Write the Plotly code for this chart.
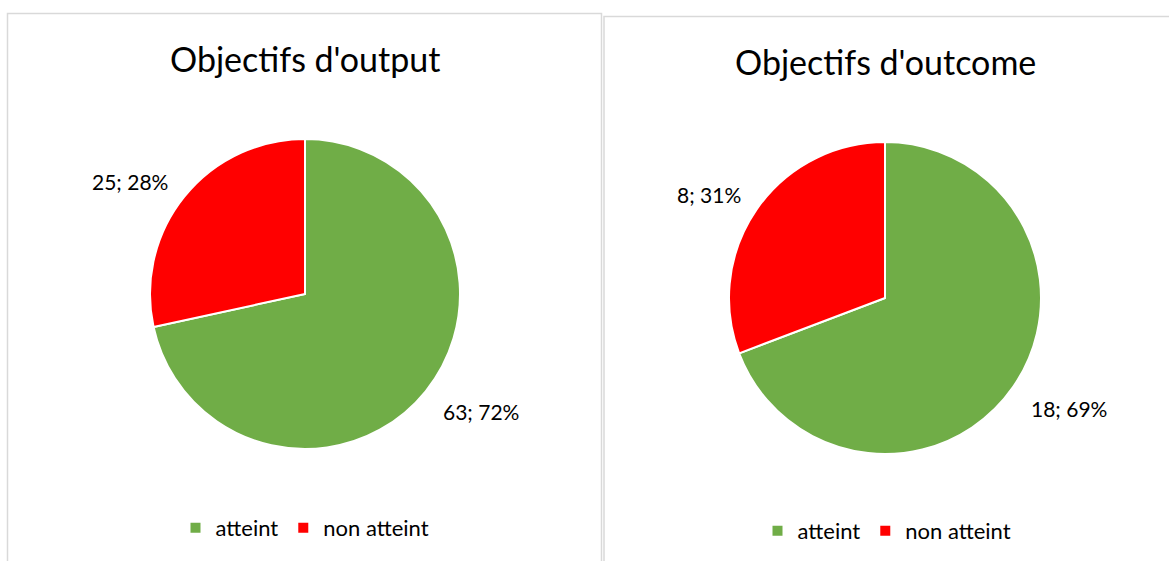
import plotly.graph_objects as go

# ── Data ────────────────────────────────────────────────────
labels = ["atteint", "non atteint"]
output_vals = [63, 25]
outcome_vals = [18, 8]
titles = ["Objectifs d'output", "Objectifs d'outcome"]
colors = ["#70AD47", "#FF0000"]

W, H = 1169, 561
FONT = "Lato"


def px_x(x):
    return x / W


def px_y(y):
    return 1 - y / H


def fmt(vals):
    total = sum(vals)
    return [f"{v}; {round(100 * v / total)}%" for v in vals]


fig = go.Figure()

# pies: (values, domain box in pixels, legend name)
pies = [
    (output_vals, (150, 460, 139, 449), "legend"),
    (outcome_vals, (729, 1041, 142, 454), "legend2"),
]
for vals, (x0, x1, y0, y1), leg in pies:
    fig.add_trace(go.Pie(
        labels=labels, values=vals, sort=False, direction="clockwise",
        rotation=0, textinfo="none", hoverinfo="label+value+percent",
        marker=dict(colors=colors, line=dict(color="white", width=2)),
        domain=dict(x=[px_x(x0), px_x(x1)], y=[px_y(y1), px_y(y0)]),
        showlegend=False,
    ))
    # legend keys, one legend per panel
    for lab, col in zip(labels, colors):
        fig.add_trace(go.Scatter(
            x=[None], y=[None], mode="markers", name=lab, legend=leg,
            marker=dict(symbol="square", size=10, color=col),
            hoverinfo="skip",
        ))

# panel borders
shapes = [
    dict(type="rect", xref="paper", yref="paper",
         x0=px_x(7.5), x1=px_x(601.5), y0=px_y(575), y1=px_y(13.5),
         line=dict(color="#D9D9D9", width=1.5)),
    dict(type="rect", xref="paper", yref="paper",
         x0=px_x(604), x1=px_x(1185), y0=px_y(575), y1=px_y(16.5),
         line=dict(color="#D9D9D9", width=1.5)),
]

annotations = []
# titles
for text, cx, cy in zip(titles, [305, 885], [58, 62]):
    annotations.append(dict(
        text=text, x=px_x(cx), y=px_y(cy), xref="paper", yref="paper",
        showarrow=False, xanchor="center", yanchor="middle",
        font=dict(family=FONT, size=34, color="#000000"),
    ))
# data labels
label_pos = [
    ([(481, 411), (130, 181)], output_vals),
    ([(1069, 408), (709, 194)], outcome_vals),
]
for pos, vals in label_pos:
    for (lx, ly), txt in zip(pos, fmt(vals)):
        annotations.append(dict(
            text=txt, x=px_x(lx), y=px_y(ly), xref="paper", yref="paper",
            showarrow=False, xanchor="center", yanchor="middle",
            font=dict(family=FONT, size=21, color="#000000"),
        ))

legend_style = dict(
    orientation="h", xanchor="center", yanchor="middle",
    font=dict(family=FONT, size=22, color="#000000"),
    bgcolor="rgba(0,0,0,0)", itemwidth=30, tracegroupgap=0,
)

fig.update_layout(
    width=W, height=H,
    margin=dict(l=0, r=0, t=0, b=0),
    paper_bgcolor="white", plot_bgcolor="white",
    font=dict(family=FONT),
    xaxis=dict(visible=False), yaxis=dict(visible=False),
    shapes=shapes, annotations=annotations,
    legend=dict(**legend_style, x=px_x(305), y=px_y(528)),
    legend2=dict(**legend_style, x=px_x(887), y=px_y(531)),
)

fig.write_html("out.html", config={"displayModeBar": False},
               post_script="document.body.style.margin='0';")
